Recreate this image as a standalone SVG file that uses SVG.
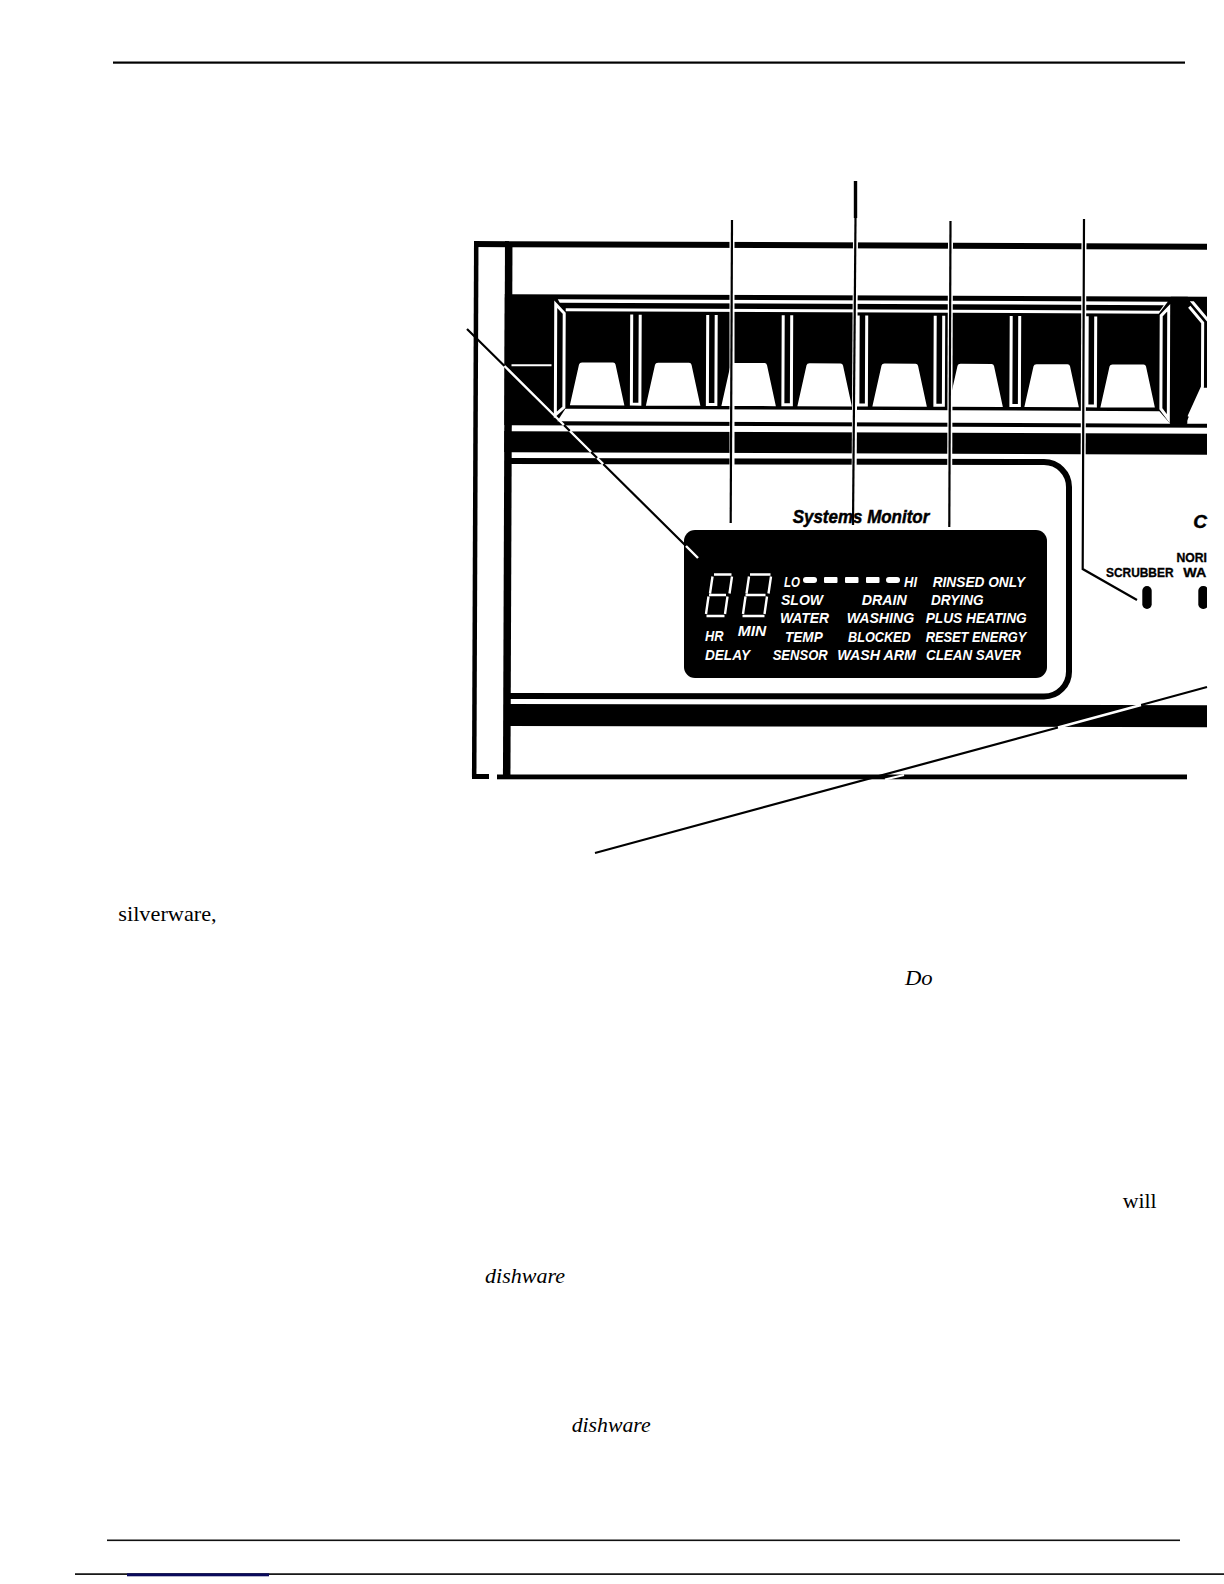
<svg xmlns="http://www.w3.org/2000/svg" width="1224" height="1584" viewBox="0 0 1224 1584">
<defs>
<style>
.b{fill:#000}.w{fill:#fff}
.ws{fill:none;stroke:#fff;stroke-width:3}
.lcd{font-family:"Liberation Sans",Arial,sans-serif;font-style:italic;font-weight:700;font-size:15px;fill:#fff}
.lab{font-family:"Liberation Sans",Arial,sans-serif;font-weight:700;font-size:13.2px;fill:#000;stroke:#000;stroke-width:.35}
.body{font-family:"Liberation Serif","Times New Roman",serif;font-size:22px;fill:#000}
.it{font-style:italic}
.seg{fill:none;stroke:#fff;stroke-width:2.4}
.halo{fill:none;stroke:#fff;stroke-width:5}
.ln{fill:none;stroke:#000;stroke-width:2.2}
</style>
<clipPath id="cut"><rect x="0" y="0" width="1207" height="1584"/></clipPath>
<path id="key" d="M0,405 L9,364 Q9.5,362 12,362 L43,362 Q45,362 45.5,364 L54.5,405 Z" fill="#fff"/>
<path id="slot" d="M1.5,314 V403.5 H10 V314" fill="none" stroke="#fff" stroke-width="3"/>
</defs>
<rect width="1224" height="1584" fill="#fff"/>

<g id="page-rules">
<rect x="113" y="61.5" width="1072" height="2.2" class="b"/>
<rect x="107" y="1539.5" width="1073" height="1.6" fill="#111"/>
<rect x="75" y="1573.3" width="1149" height="1.6" class="b"/>
<rect x="127" y="1573.3" width="142" height="3" fill="#0a0a5c"/>
</g>

<g clip-path="url(#cut)">
<g id="panel" transform="rotate(0.22 474 241)">
<rect x="474" y="241" width="800" height="6" class="b"/>
<rect x="474" y="241" width="4.5" height="536" class="b"/>
<rect x="505" y="241" width="7.5" height="536" class="b"/>
<rect x="505" y="294" width="770" height="131" class="b"/>
<rect x="512" y="364" width="40" height="2" class="w"/>
<g id="bezel">
<path class="w" d="M558,299 H1168 L1159,311 H566 L566,308 H1160 L1164,302.5 H560 Z"/>
<path class="w" d="M566,408.5 H1160 L1171,421 H558 Z"/>
<path class="ws" d="M556,304 L564.5,313 V407 L556,414.5 Z"/>
<path class="ws" d="M1161.5,313 L1169,305 V416 L1161.5,406 Z"/>
<path class="w" d="M1187.5,418.5 L1202,385 H1220 V421 H1187.5 Z"/>
<path class="ws" d="M1189.5,304 L1203,320 V384 L1189.5,414"/>
<path class="w" d="M1190,298.5 H1194 L1220,329 V334 L1216,329 Z"/>
<rect x="1171" y="294" width="17" height="127" class="b"/>
</g>
<g id="keys">
<use href="#key" x="570.5"/><use href="#key" x="646.5"/><use href="#key" x="722"/><use href="#key" x="798"/>
<use href="#key" x="873"/><use href="#key" x="949"/><use href="#key" x="1025"/><use href="#key" x="1101"/>
<use href="#slot" x="630.5"/><use href="#slot" x="706.5"/><use href="#slot" x="782"/><use href="#slot" x="857"/>
<use href="#slot" x="934"/><use href="#slot" x="1010"/><use href="#slot" x="1086"/>
</g>
<rect x="505" y="431" width="777" height="21" class="b"/>
</g>
<path id="panel-outline" d="M505,461 L1044,462 A25,25 0 0 1 1069,487 V671 A25,25 0 0 1 1044,696.5 L505,696" fill="none" stroke="#000" stroke-width="6"/>
<path id="lower-band" class="b" d="M505,704 L1220,705.2 V727.2 L505,726 Z"/>
<rect x="472" y="774" width="17" height="5" class="b"/>
<rect x="497" y="774.5" width="690" height="4.8" class="b"/>
</g>

<g id="connectors">
<path class="halo" d="M732,238 V500"/>
<path class="halo" d="M855.5,238 L854,500"/>
<path class="halo" d="M950.5,238 L949.6,500"/>
<path class="halo" d="M1084,238 L1083,500"/>
<path class="ln" d="M732,220 L730.7,523"/>
<path class="ln" d="M855.5,218 L853,525"/>
<path d="M855.5,181 V218" fill="none" stroke="#000" stroke-width="3.4"/>
<path class="ln" d="M950.5,221 L949.3,527"/>
<path class="ln" d="M1084,219 L1082.7,569 L1137,600"/>
<path class="ln" d="M467,329 L504.5,366 M563.9,425 L569.9,431 M591.1,452 L597.2,458 M603.2,464 L686,546"/>
<path fill="none" stroke="#fff" stroke-width="2.4" d="M504.5,366 L563.9,425 M569.9,431 L591.1,452 M597.2,458 L603.2,464"/>
<path class="ln" d="M595,853 L1058,727.5 M1141,705 L1207,687"/>
<path fill="none" stroke="#fff" stroke-width="2.4" d="M1058,727.5 L1141,705"/>
<path fill="none" stroke="#fff" stroke-width="2" d="M885,779.5 L904,775"/>
</g>

<g id="display">
<rect x="684" y="530" width="363" height="148" rx="11" class="b"/>
<path fill="none" stroke="#fff" stroke-width="2.4" d="M686,546 L698,558"/>
<g id="digits">
<path class="seg" d="M714,574.5 H731.5 M709,595 H726 M706.5,616 H724.5 M712.5,576.5 L710,593.5 M732,576.5 L729.5,593.5 M708.5,596.5 L706,614 M727.5,596.5 L725,614"/>
<path class="seg" d="M750,574.5 H770.5 M745.5,595 H765.5 M742.5,616 H764.5 M749,576.5 L746.5,593.5 M771,576.5 L768.5,593.5 M745.5,596.5 L743,614 M767,596.5 L764.5,614"/>
</g>
<g id="level-bar" fill="#fff">
<rect x="803" y="577" width="14" height="6" rx="3"/><rect x="824" y="577" width="13.5" height="6" rx="1"/>
<rect x="845" y="577" width="13.5" height="6" rx="1"/><rect x="866" y="577" width="13.5" height="6" rx="1"/>
<rect x="886" y="577" width="14" height="6" rx="3"/>
</g>
<text class="lcd" x="784" y="586.7" textLength="16" lengthAdjust="spacingAndGlyphs">LO</text>
<text class="lcd" x="904" y="586.7" textLength="13" lengthAdjust="spacingAndGlyphs">HI</text>
<text class="lcd" x="932.7" y="586.7" textLength="92.5" lengthAdjust="spacingAndGlyphs">RINSED ONLY</text>
<text class="lcd" x="781" y="605" textLength="42" lengthAdjust="spacingAndGlyphs">SLOW</text>
<text class="lcd" x="861.7" y="605" textLength="45" lengthAdjust="spacingAndGlyphs">DRAIN</text>
<text class="lcd" x="931" y="605" textLength="52.5" lengthAdjust="spacingAndGlyphs">DRYING</text>
<text class="lcd" x="780" y="623.3" textLength="49" lengthAdjust="spacingAndGlyphs">WATER</text>
<text class="lcd" x="846.7" y="623.3" textLength="67.5" lengthAdjust="spacingAndGlyphs">WASHING</text>
<text class="lcd" x="925.7" y="623.3" textLength="101" lengthAdjust="spacingAndGlyphs">PLUS HEATING</text>
<text class="lcd" x="705" y="640.7" textLength="18.5" lengthAdjust="spacingAndGlyphs">HR</text>
<text class="lcd" x="737.7" y="636" textLength="28.5" lengthAdjust="spacingAndGlyphs">MIN</text>
<text class="lcd" x="785" y="641.7" textLength="37.7" lengthAdjust="spacingAndGlyphs">TEMP</text>
<text class="lcd" x="848" y="641.7" textLength="62.7" lengthAdjust="spacingAndGlyphs">BLOCKED</text>
<text class="lcd" x="925.7" y="641.7" textLength="100.5" lengthAdjust="spacingAndGlyphs">RESET ENERGY</text>
<text class="lcd" x="705" y="659.5" textLength="45" lengthAdjust="spacingAndGlyphs">DELAY</text>
<text class="lcd" x="772.7" y="659.5" textLength="55" lengthAdjust="spacingAndGlyphs">SENSOR</text>
<text class="lcd" x="837.3" y="659.5" textLength="78.7" lengthAdjust="spacingAndGlyphs">WASH ARM</text>
<text class="lcd" x="926" y="660" textLength="95" lengthAdjust="spacingAndGlyphs">CLEAN SAVER</text>
</g>

<g id="panel-labels">
<text class="lab" x="792.7" y="523.3" style="font-size:19px;font-style:italic;stroke-width:.5" textLength="136.6" lengthAdjust="spacingAndGlyphs">Systems Monitor</text>
<text class="lab" x="1193.3" y="528" style="font-size:19px;font-style:italic;stroke-width:.5">C</text>
<text class="lab" x="1176.5" y="562.3" textLength="30.5" lengthAdjust="spacingAndGlyphs">NORI</text>
<text class="lab" x="1106" y="576.7" textLength="67.5" lengthAdjust="spacingAndGlyphs">SCRUBBER</text>
<text class="lab" x="1183.3" y="576.7" textLength="23" lengthAdjust="spacingAndGlyphs">WA</text>
</g>

<g id="indicators" clip-path="url(#cut)">
<rect x="1142.3" y="586" width="9.4" height="23" rx="4.7" class="b"/>
<rect x="1198.3" y="586" width="10" height="23" rx="4.7" class="b"/>
</g>

<g id="body-fragments">
<text class="body" x="118.3" y="921" textLength="98.4" lengthAdjust="spacingAndGlyphs">silverware,</text>
<text class="body it" x="905" y="985" textLength="27.7" lengthAdjust="spacingAndGlyphs">Do</text>
<text class="body" x="1122.7" y="1208.3" textLength="34" lengthAdjust="spacingAndGlyphs">will</text>
<text class="body it" x="485" y="1283.3" textLength="80" lengthAdjust="spacingAndGlyphs">dishware</text>
<text class="body it" x="571.7" y="1431.7" textLength="79" lengthAdjust="spacingAndGlyphs">dishware</text>
</g>
</svg>
